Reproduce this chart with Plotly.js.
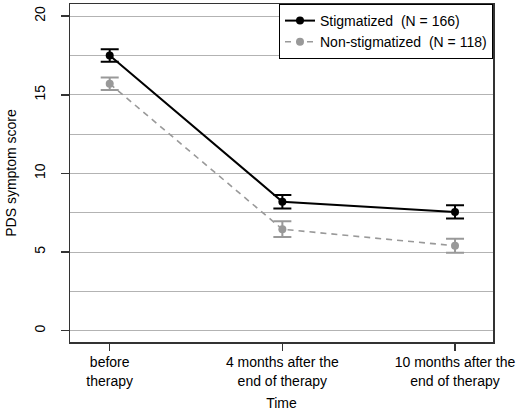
<!DOCTYPE html>
<html>
<head>
<meta charset="utf-8">
<script src="https://cdn.plot.ly/plotly-3.0.1.min.js"></script>
<style>html,body{margin:0;padding:0;background:#fff;}#chart{width:517px;height:413px;}</style>
</head>
<body>
<div id="chart"></div>
<script>
const timepoints = ['before<br>therapy', '4 months after the<br>end of therapy', '10 months after the<br>end of therapy'];
const stigName = 'Stigmatized\u00a0\u00a0(N = 166)';
const stigMean = [17.5, 8.2, 7.55];
const stigErr = [0.4, 0.43, 0.42];
const nonName = 'Non-stigmatized\u00a0\u00a0(N = 118)';
const nonMean = [15.7, 6.45, 5.4];
const nonErr = [0.4, 0.5, 0.45];
const yTicks = [0, 5, 10, 15, 20];

const font = 'Liberation Sans, Arial, sans-serif';
const fs = 14;

const traces = [
  {
    x: timepoints, y: stigMean, name: stigName, type: 'scatter', mode: 'lines+markers',
    line: {color: '#000000', width: 2},
    marker: {color: '#000000', size: 8},
    error_y: {type: 'data', array: stigErr, visible: true, color: '#000000', thickness: 2, width: 9}
  },
  {
    x: timepoints, y: nonMean, name: nonName, type: 'scatter', mode: 'lines+markers',
    line: {color: '#999999', width: 1.6, dash: '6px,5px'},
    marker: {color: '#999999', size: 8},
    error_y: {type: 'data', array: nonErr, visible: true, color: '#999999', thickness: 2, width: 9}
  }
];

const layout = {
  width: 517, height: 413,
  margin: {l: 70, r: 24, t: 4, b: 71},
  paper_bgcolor: '#ffffff', plot_bgcolor: '#ffffff',
  font: {family: font, size: fs, color: '#000000'},
  showlegend: true,
  legend: {
    x: 1, xanchor: 'right', y: 1, yanchor: 'top',
    bordercolor: '#000000', borderwidth: 1, bgcolor: '#ffffff',
    font: {family: font, size: fs, color: '#000000'},
    tracegroupgap: 0, itemwidth: 30
  },
  xaxis: {
    type: 'category',
    range: [-0.23, 2.22],
    showline: true, mirror: true, linecolor: '#333333', linewidth: 1.5,
    ticks: 'outside', ticklen: 7, tickcolor: '#333333', tickwidth: 1.5,
    showgrid: false, zeroline: false,
    tickfont: {family: font, size: fs, color: '#000000'},
    title: {text: 'Time', font: {family: font, size: fs, color: '#000000'}, standoff: 10}
  },
  yaxis: {
    range: [-0.72, 20.77],
    tickvals: yTicks, ticktext: yTicks.map(String),
    tickangle: -90,
    ticklabelstandoff: 10,
    showline: true, mirror: true, linecolor: '#333333', linewidth: 1.5,
    ticks: 'outside', ticklen: 8, tickcolor: '#333333', tickwidth: 1.5,
    showgrid: true, gridcolor: '#b3b3b3', gridwidth: 1,
    minor: {dtick: 2.5, tick0: 0, showgrid: true, gridcolor: '#b3b3b3', gridwidth: 1, ticks: ''},
    zeroline: false,
    tickfont: {family: font, size: fs, color: '#000000'},
    title: {text: 'PDS symptom score', font: {family: font, size: fs, color: '#000000'}, standoff: 12}
  }
};

Plotly.newPlot('chart', traces, layout, {displayModeBar: false, staticPlot: true});
</script>
</body>
</html>
